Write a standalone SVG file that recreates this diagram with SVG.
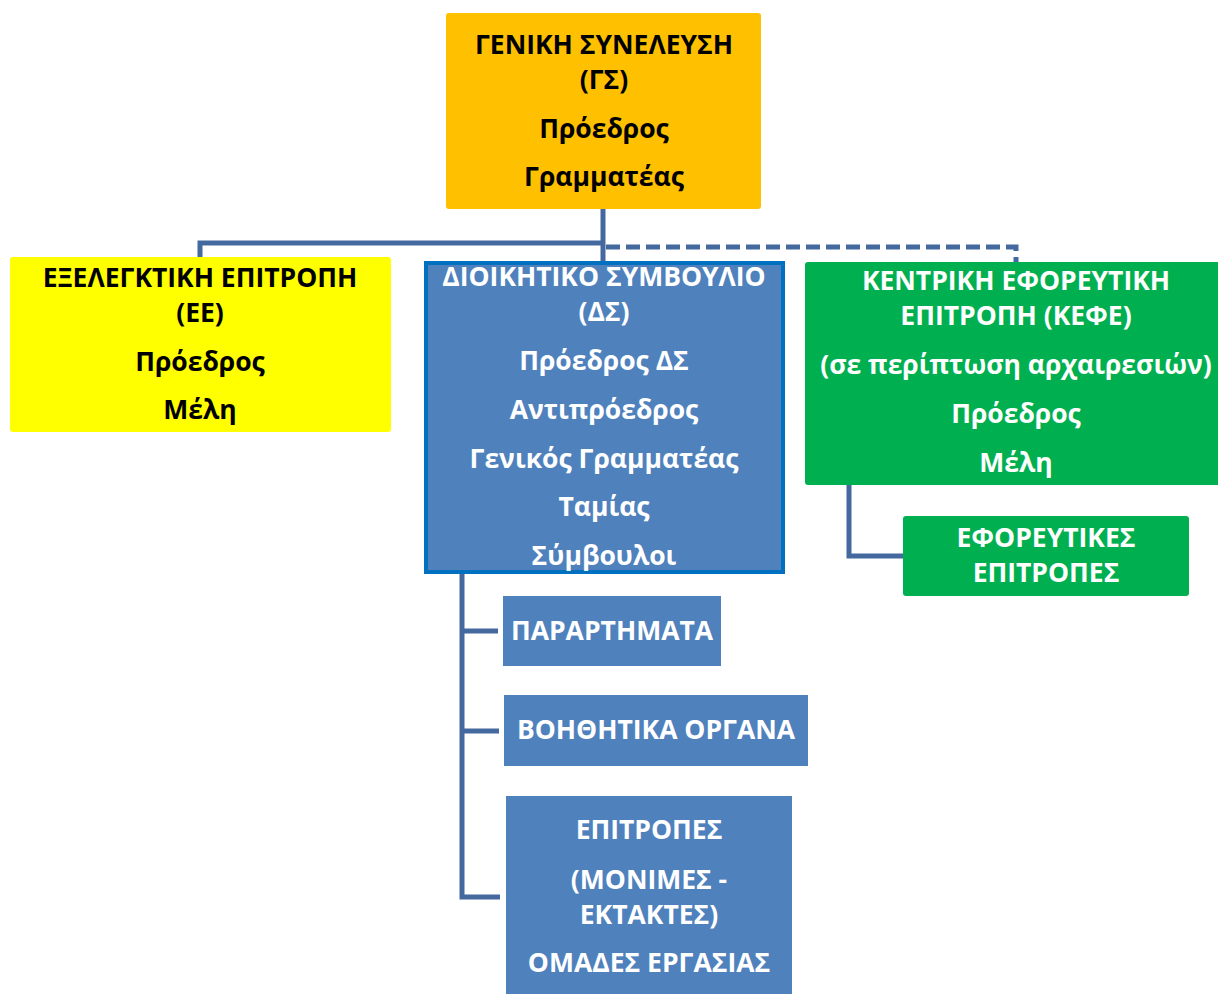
<svg xmlns="http://www.w3.org/2000/svg" width="1218" height="994" viewBox="0 0 1218 994">
<style>
text{font-family:"Open Sans","Noto Sans","DejaVu Sans",sans-serif;font-weight:bold;font-size:26.5px;text-anchor:middle}
.w{fill:#ffffff}
.k{fill:#000000}
.ln{fill:none;stroke:#44699E;stroke-width:5}
</style>
<rect width="1218" height="994" fill="#ffffff"/>
<g id="connectors">
<polyline class="ln" points="603,209 603,262"/>
<polyline class="ln" points="603,243 200,243 200,258"/>
<polyline class="ln" points="606,247 1016,247 1016,262" stroke-dasharray="14,6"/>
<polyline class="ln" points="849,485 849,556 904,556"/>
<polyline class="ln" points="462,573 462,897 500,897"/>
<line class="ln" x1="462" y1="631" x2="498" y2="631"/>
<line class="ln" x1="462" y1="731" x2="499" y2="731"/>
</g>
<g id="gs">
<rect x="446" y="13" width="315" height="196" rx="3" fill="#FFC000"/>
<text class="k" x="604" y="54">ΓΕΝΙΚΗ ΣΥΝΕΛΕΥΣΗ</text>
<text class="k" x="604" y="89">(ΓΣ)</text>
<text class="k" x="604" y="138">Πρόεδρος</text>
<text class="k" x="604" y="186">Γραμματέας</text>
</g>
<g id="ee">
<rect x="10" y="257" width="381" height="175" rx="3" fill="#FFFF00"/>
<text class="k" x="200" y="287">ΕΞΕΛΕΓΚΤΙΚΗ ΕΠΙΤΡΟΠΗ</text>
<text class="k" x="200" y="322">(ΕΕ)</text>
<text class="k" x="200" y="371">Πρόεδρος</text>
<text class="k" x="200" y="419">Μέλη</text>
</g>
<g id="ds">
<rect x="426" y="263" width="357" height="309" fill="#4F81BD" stroke="#0070C0" stroke-width="4"/>
<text class="w" x="604" y="286">ΔΙΟΙΚΗΤΙΚΟ ΣΥΜΒΟΥΛΙΟ</text>
<text class="w" x="604" y="321">(ΔΣ)</text>
<text class="w" x="604" y="370">Πρόεδρος ΔΣ</text>
<text class="w" x="604" y="419">Αντιπρόεδρος</text>
<text class="w" x="604" y="468">Γενικός Γραμματέας</text>
<text class="w" x="604" y="516">Ταμίας</text>
<text class="w" x="604" y="565">Σύμβουλοι</text>
</g>
<g id="kefe">
<rect x="805" y="262" width="420" height="223" rx="3" fill="#00B050"/>
<text class="w" x="1016" y="290">ΚΕΝΤΡΙΚΗ ΕΦΟΡΕΥΤΙΚΗ</text>
<text class="w" x="1016" y="325">ΕΠΙΤΡΟΠΗ (ΚΕΦΕ)</text>
<text class="w" x="1016" y="374">(σε περίπτωση αρχαιρεσιών)</text>
<text class="w" x="1016" y="423">Πρόεδρος</text>
<text class="w" x="1016" y="472">Μέλη</text>
</g>
<g id="eforeftikes">
<rect x="903" y="516" width="286" height="80" rx="3" fill="#00B050"/>
<text class="w" x="1046" y="547">ΕΦΟΡΕΥΤΙΚΕΣ</text>
<text class="w" x="1046" y="582">ΕΠΙΤΡΟΠΕΣ</text>
</g>
<g id="parartimata">
<rect x="503" y="596" width="218" height="70" fill="#4F81BD"/>
<text class="w" x="612" y="640">ΠΑΡΑΡΤΗΜΑΤΑ</text>
</g>
<g id="voithitika">
<rect x="504" y="695" width="304" height="71" fill="#4F81BD"/>
<text class="w" x="656" y="739">ΒΟΗΘΗΤΙΚΑ ΟΡΓΑΝΑ</text>
</g>
<g id="epitropes">
<rect x="506" y="796" width="286" height="200" fill="#4F81BD"/>
<text class="w" x="649" y="839">ΕΠΙΤΡΟΠΕΣ</text>
<text class="w" x="649" y="889">(ΜΟΝΙΜΕΣ -</text>
<text class="w" x="649" y="924">ΕΚΤΑΚΤΕΣ)</text>
<text class="w" x="649" y="972">ΟΜΑΔΕΣ ΕΡΓΑΣΙΑΣ</text>
</g>
</svg>
